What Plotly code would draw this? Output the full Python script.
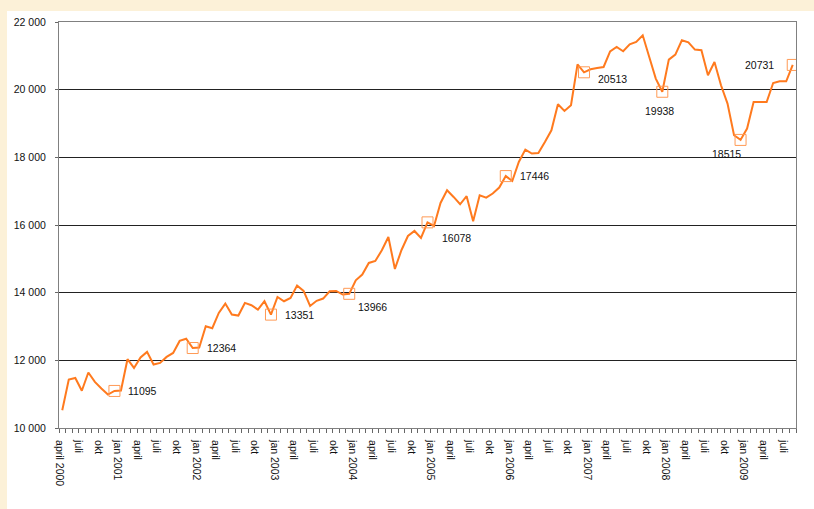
import plotly.graph_objects as go

# Monthly values, April 2000 .. August 2009
values = [10526, 11433, 11480, 11100, 11640, 11362, 11167, 10990, 11095, 11110,
          12033, 11776, 12083, 12249, 11876, 11923, 12101, 12219, 12574, 12640,
          12364, 12380, 13008, 12949, 13401, 13678, 13353, 13324, 13697, 13628,
          13501, 13747, 13351, 13874, 13747, 13844, 14210, 14051, 13608, 13760,
          13826, 14042, 14051, 13945, 13966, 14367, 14536, 14878, 14937, 15254,
          15647, 14701, 15254, 15676, 15824, 15617, 16078, 15972, 16651, 17027,
          16829, 16613, 16850, 16111, 16879, 16810, 16929, 17106, 17446, 17302,
          17863, 18229, 18111, 18130, 18454, 18800, 19568, 19370, 19539, 20750,
          20513, 20602, 20641, 20670, 21134, 21261, 21134, 21341, 21409, 21607,
          20966, 20327, 19938, 20889, 21037, 21459, 21400, 21184, 21164, 20425,
          20818, 20129, 19589, 18652, 18515, 18850, 19636, 19636, 19636, 20197,
          20248, 20248, 20731]

# Indices of highlighted points
marked_idx = [8, 20, 32, 44, 56, 68, 80, 92, 104, 112]

# Category tick labels (every third month)
tick_labels = ["april 2000", "juli", "okt",
               "jan 2001", "april", "juli", "okt",
               "jan 2002", "april", "juli", "okt",
               "jan 2003", "april", "juli", "okt",
               "jan 2004", "april", "juli", "okt",
               "jan 2005", "april", "juli", "okt",
               "jan 2006", "april", "juli", "okt",
               "jan 2007", "april", "juli", "okt",
               "jan 2008", "april", "juli", "okt",
               "jan 2009", "april", "juli"]

y_ticks = [10000, 12000, 14000, 16000, 18000, 20000, 22000]
y_tick_text = ["10 000", "12 000", "14 000", "16 000", "18 000", "20 000", "22 000"]

n = len(values)
xs = [i + 0.5 for i in range(n)]

LINE = "#FF7A1E"
MARK = "#FF9A55"
FONT = "Liberation Sans, Arial, sans-serif"
TXT = "#111111"

fig = go.Figure()
fig.add_trace(go.Scatter(x=xs, y=values, mode="lines",
                         line=dict(color=LINE, width=2), hoverinfo="skip",
                         showlegend=False))
fig.add_trace(go.Scatter(x=[xs[i] for i in marked_idx],
                         y=[values[i] for i in marked_idx],
                         mode="markers",
                         marker=dict(symbol="square-open", size=11,
                                     color=MARK, line=dict(color=MARK, width=1)),
                         showlegend=False, hoverinfo="skip"))

# label placement styles: (xanchor, yanchor, xshift, yshift)
label_style = {
    8: ("left", "middle", 12, 0),
    20: ("left", "middle", 12, 0),
    32: ("left", "middle", 12, 0),
    44: ("left", "middle", 7, -13),
    56: ("left", "middle", 12, -16),
    68: ("left", "middle", 12, 0),
    80: ("left", "middle", 12, -7),
    92: ("center", "middle", -3, -19),
    104: ("center", "middle", -14, -14),
    112: ("right", "middle", -17, 0),
}
for i in marked_idx:
    xa, ya, xsft, ysft = label_style[i]
    fig.add_annotation(x=xs[i], y=values[i], text=str(values[i]), showarrow=False,
                       xanchor=xa, yanchor=ya, xshift=xsft, yshift=ysft,
                       font=dict(family=FONT, size=10.5, color=TXT))

tickvals = list(range(0, n + 1))
ticktext = [""] * len(tickvals)
for j, lab in enumerate(tick_labels):
    ticktext[j * 3] = lab

fig.update_xaxes(range=[0, n], tickmode="array", tickvals=tickvals, ticktext=ticktext,
                 tickangle=90, ticks="outside", ticklen=4, tickcolor="#666666",
                 ticklabelstandoff=5,
                 showline=True, linecolor="#808080", linewidth=1, mirror=True,
                 showgrid=False, zeroline=False,
                 tickfont=dict(family=FONT, size=10.5, color=TXT))
fig.update_yaxes(range=[10000, 22000], tickmode="array", tickvals=y_ticks,
                 ticktext=y_tick_text, ticks="outside", ticklen=3,
                 tickcolor="#666666", ticklabelstandoff=7,
                 showline=True, linecolor="#808080", linewidth=1, mirror=True,
                 showgrid=True, gridcolor="#222222", gridwidth=1, zeroline=False,
                 tickfont=dict(family=FONT, size=10.5, color=TXT))

L, R, T, B = 59, 18, 22, 81
W, H = 814, 509
pw, ph = W - L - R, H - T - B
fig.add_shape(type="rect", xref="paper", yref="paper", layer="below",
              x0=(7 - L) / pw, x1=(W - L) / pw + 0.01,
              y0=-(B + 2) / ph, y1=(ph + T - 11) / ph,
              fillcolor="white", line=dict(width=0))

fig.update_layout(width=W, height=H, margin=dict(l=L, r=R, t=T, b=B),
                  paper_bgcolor="#FCF1D8", plot_bgcolor="white",
                  font=dict(family=FONT, size=10.5, color=TXT))

fig.write_html("out.html", config={"displayModeBar": False},
               post_script="document.body.style.margin='0';document.body.style.padding='0';document.body.style.overflow='hidden';")
